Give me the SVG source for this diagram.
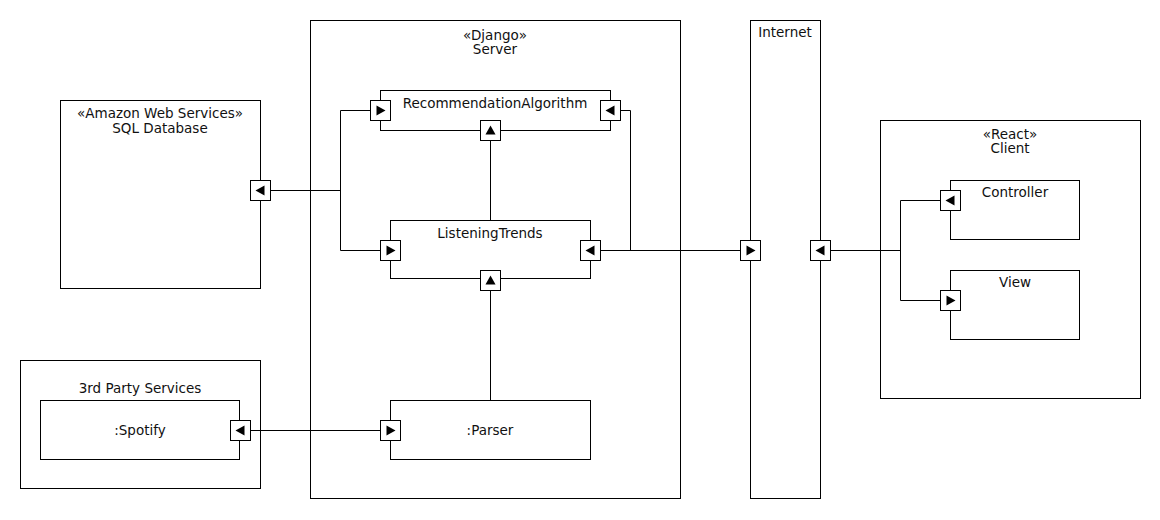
<svg xmlns="http://www.w3.org/2000/svg" width="1160" height="520" viewBox="0 0 1160 520">
<style>
.box{fill:#fff;stroke:#000;stroke-width:1}
.port{fill:#fff;stroke:#000;stroke-width:1}
.tri{fill:#000}
.ln{fill:none;stroke:#000;stroke-width:1}
text{font-family:"DejaVu Sans","Liberation Sans",sans-serif;font-size:13.5px;fill:#111;text-anchor:middle}
</style>
<defs>
<g id="pR"><rect class="port" x="-10" y="-10" width="20" height="20"/><path class="tri" d="M-4,-5L5,0L-4,5Z"/></g>
<g id="pL"><rect class="port" x="-10" y="-10" width="20" height="20"/><path class="tri" d="M4,-5L-5,0L4,5Z"/></g>
<g id="pU"><rect class="port" x="-10" y="-10" width="20" height="20"/><path class="tri" d="M-5,4L0,-5L5,4Z"/></g>
</defs>
<rect width="1160" height="520" fill="#fff"/>

<g id="server">
<rect class="box" x="310.5" y="20.5" width="370" height="478"/>
<text x="495" y="40">«Django»</text>
<text x="495" y="54">Server</text>
</g>
<g id="internet">
<rect class="box" x="750.5" y="20.5" width="70" height="478"/>
<text x="785" y="37">Internet</text>
</g>
<g id="client">
<rect class="box" x="880.5" y="120.5" width="260" height="278"/>
<text x="1010" y="139">«React»</text>
<text x="1010" y="153">Client</text>
</g>
<g id="sqldb">
<rect class="box" x="60.5" y="100.5" width="200" height="188"/>
<text x="160" y="118">«Amazon Web Services»</text>
<text x="160" y="133">SQL Database</text>
</g>
<g id="thirdparty">
<rect class="box" x="20.5" y="360.5" width="240" height="128"/>
<text x="140" y="393">3rd Party Services</text>
</g>

<g id="connectors">
<path class="ln" d="M270,190.5H340.5"/>
<path class="ln" d="M370,110.5H340.5V250.5H380"/>
<path class="ln" d="M490.5,140V220"/>
<path class="ln" d="M490.5,290V400"/>
<path class="ln" d="M250,430.5H380"/>
<path class="ln" d="M600,250.5H740"/>
<path class="ln" d="M620,110.5H630.5V250.5"/>
<path class="ln" d="M830,250.5H900.5"/>
<path class="ln" d="M940,200.5H900.5V300.5H940"/>
</g>

<g id="recommendation">
<rect class="box" x="380.5" y="90.5" width="230" height="40"/>
<text x="495" y="108">RecommendationAlgorithm</text>
<use href="#pR" x="380.5" y="110.5"/>
<use href="#pL" x="610.5" y="110.5"/>
<use href="#pU" x="490.5" y="130.5"/>
</g>
<g id="listening">
<rect class="box" x="390.5" y="220.5" width="200" height="58"/>
<text x="490" y="238">ListeningTrends</text>
<use href="#pR" x="390.5" y="250.5"/>
<use href="#pL" x="590.5" y="250.5"/>
<use href="#pU" x="490.5" y="280.5"/>
</g>
<g id="parser">
<rect class="box" x="390.5" y="400.5" width="200" height="59"/>
<text x="490" y="435">:Parser</text>
<use href="#pR" x="390.5" y="430.5"/>
</g>
<g id="spotify">
<rect class="box" x="40.5" y="400.5" width="199" height="59"/>
<text x="140" y="435">:Spotify</text>
<use href="#pL" x="240.5" y="430.5"/>
</g>
<g id="sqlport"><use href="#pL" x="260.5" y="190.5"/></g>
<g id="internetports">
<use href="#pR" x="750.5" y="250.5"/>
<use href="#pL" x="820.5" y="250.5"/>
</g>
<g id="controller">
<rect class="box" x="950.5" y="180.5" width="129" height="59"/>
<text x="1015" y="197">Controller</text>
<use href="#pL" x="950.5" y="200.5"/>
</g>
<g id="view">
<rect class="box" x="950.5" y="270.5" width="129" height="69"/>
<text x="1015" y="287">View</text>
<use href="#pR" x="950.5" y="300.5"/>
</g>
</svg>
